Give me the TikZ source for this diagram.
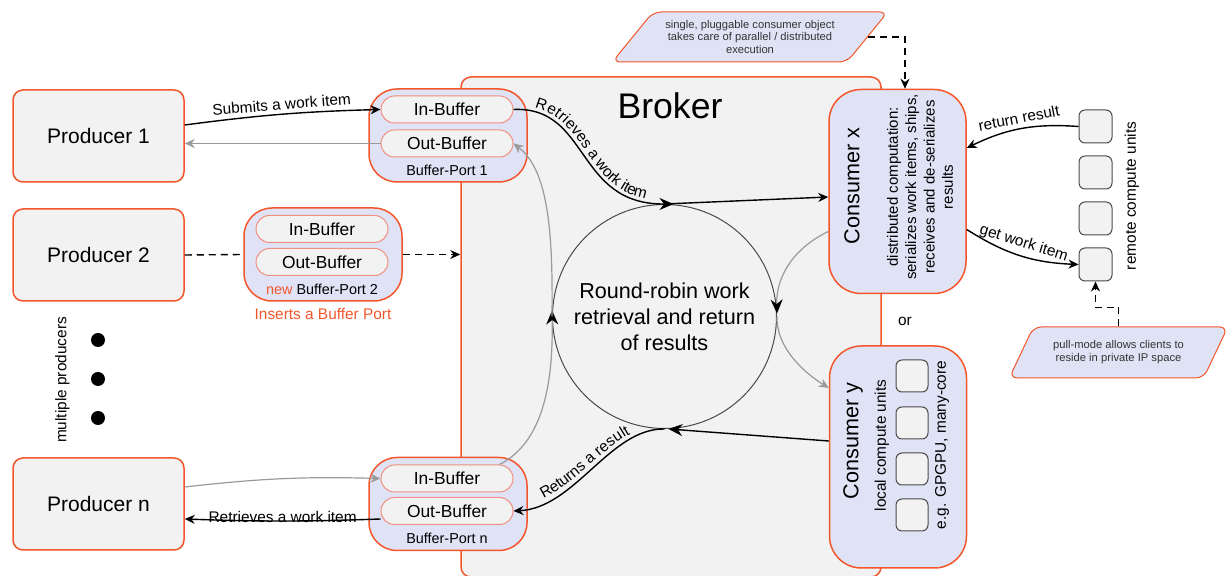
\documentclass[tikz,border=0pt]{standalone}
\usepackage{fontspec}
\setmainfont{Liberation Sans}
\usepackage{tikz}
\usetikzlibrary{arrows.meta,positioning,calc,shapes.geometric,shapes.misc,decorations.text}
\definecolor{cOr}{HTML}{F4562C}
\definecolor{cSal}{HTML}{F09080}
\definecolor{cLav}{HTML}{E0E3F5}
\definecolor{cGr}{HTML}{F2F2F2}
\definecolor{cArr}{HTML}{9A9A9A}
\definecolor{cRim}{HTML}{4A4A4A}
\newcommand\lblfont{\fontsize{7.7}{9}\selectfont}
\tikzset{
  prod/.style={rounded corners=5pt,draw=cOr,line width=0.75pt,fill=cGr,minimum width=85.5pt,minimum height=46pt,font=\fontsize{10.5}{12}\selectfont},
  broker/.style={rounded corners=5pt,draw=cOr,line width=0.75pt,fill=cGr,minimum width=210pt,minimum height=250pt},
  port/.style={rounded corners=14pt,draw=cOr,line width=0.75pt,fill=cLav,minimum width=79pt,minimum height=46.5pt},
  buf/.style={rounded rectangle,draw=cSal,line width=0.5pt,fill=cGr,minimum width=66pt,minimum height=13.5pt,inner sep=0pt,font=\fontsize{8.7}{10}\selectfont},
  cons/.style={rounded corners=16pt,draw=cOr,line width=0.75pt,fill=cLav,minimum width=68.5pt},
  unit/.style={rounded corners=3pt,draw=cRim,line width=0.5pt,fill=cGr,minimum size=16.5pt,inner sep=0pt},
  note/.style={trapezium,trapezium stretches=true,rounded corners=4pt,draw=cOr,line width=0.5pt,fill=cLav,align=center,inner sep=1pt,font=\fontsize{5.6}{6.4}\selectfont,text=black!80},
  lbl/.style={font=\lblfont},
  flow/.style={-{Stealth[length=5pt,width=4.5pt]},line width=0.7pt,black},
  rflow/.style={flow,{Stealth[length=5pt,width=4.5pt]}-},
  gflow/.style={-{Stealth[length=5pt,width=4.5pt]},line width=0.6pt,cArr},
  midtip/.style={-{Stealth[length=7pt,width=6pt,black]}},
  dflow/.style={-{Stealth[length=5pt,width=4.5pt]},line width=0.7pt,dash pattern=on 3.5pt off 2.5pt},
  onpath/.style={decorate,decoration={text along path,text align=center,raise=2pt,text={|\lblfont|#1}}},
}
\begin{document}
\begin{tikzpicture}[x=0.5pt,y=-0.5pt]
  \useasboundingbox (0,0) rectangle (1232,576);
  % broker and round-robin
  \node[broker] (broker) at (671,327) {};
  \node[font=\fontsize{17.8}{20}\selectfont] (btitle) at (670,106) {Broker};
  \node[circle,draw=cRim,line width=0.5pt,minimum size=112pt,align=center,
    font=\fontsize{10.8}{13}\selectfont] (rr) at (664.5,316.5) {Round-robin work\\retrieval and return\\of results};

  % producers
  \node[prod] (prod1) at (98.5,136) {Producer 1};
  \node[prod] (prod2) at (98.5,255) {Producer 2};
  \node[prod] (prodn) at (98.5,504) {Producer n};
  \foreach \y in {340,379,418}
    \node[circle,fill=black,minimum size=7pt,inner sep=0pt] (dot\y) at (98,\y) {};
  \node[lbl,rotate=90] (multi) at (62.5,380) {multiple producers};

  % buffer ports
  \node[port] (p1) at (448,135.5) {};
  \node[buf] (in1) at (447,109.5) {In-Buffer};
  \node[buf] (out1) at (447,143.5) {Out-Buffer};
  \node[font=\fontsize{7.2}{9}\selectfont] (p1lab) at (447,170) {Buffer-Port 1};

  \node[port] (p2) at (323,254.5) {};
  \node[buf] (in2) at (322,229) {In-Buffer};
  \node[buf] (out2) at (322,262) {Out-Buffer};
  \node[font=\fontsize{7.2}{9}\selectfont] (p2lab) at (322,289) {\textcolor{cOr}{new} Buffer-Port 2};
  \node[lbl,text=cOr,below=0pt of p2] (ins) {Inserts a Buffer Port};

  \node[port] (pn) at (448,504) {};
  \node[buf] (inn) at (447,478.5) {In-Buffer};
  \node[buf] (outn) at (447,511) {Out-Buffer};
  \node[font=\fontsize{7.2}{9}\selectfont] (pnlab) at (447,538) {Buffer-Port n};

  % consumers
  \node[cons,minimum height=102pt] (cx) at (897.5,191.5) {};
  \node[rotate=90,font=\fontsize{10.8}{13}\selectfont] (cxt) at (852,186) {Consumer x};
  \node[rotate=90,align=center,font=\fontsize{7.5}{9.2}\selectfont] (cxs) at (920,187)
    {distributed computation:\\serializes work items, ships,\\receives and de-serializes\\results};

  \node[cons,minimum height=111pt] (cy) at (898,457) {};
  \node[rotate=90,font=\fontsize{10.8}{13}\selectfont] (cyt) at (853,441) {Consumer y};
  \node[lbl,rotate=90] (cys) at (882,445.5) {local compute units};
  \foreach \i/\y in {1/376,2/423,3/469,4/515}
    \node[unit,minimum size=16pt] (l\i) at (912,\y) {};
  \node[lbl,rotate=90] (gpu) at (942,445) {e.g. GPGPU, many-core};
  \node[lbl] (or) at (905,321) {or};

  % remote units
  \foreach \i/\y in {1/126.5,2/172.5,3/218.5,4/264.5}
    \node[unit] (r\i) at (1095.5,\y) {};
  \node[lbl,rotate=90] (rlab) at (1132,196) {remote compute units};

  % notes
  \node[note,trapezium left angle=46,trapezium right angle=134,minimum width=138pt,minimum height=25pt]
    (note1) at (750,37) {single, pluggable consumer object\\takes care of parallel / distributed\\execution};
  \node[note,trapezium left angle=55,trapezium right angle=125,minimum width=110pt,minimum height=25.5pt]
    (note2) at (1118.5,352.5) {pull-mode allows clients to\\reside in private IP space};
  \draw[dflow] (note1.east) -| ([xshift=3.75pt]cx.north);
  \draw[dflow] (note2.north) -- ++(0,-19) -| (r4.south);

  % producers <-> ports
  \draw[flow] ([yshift=5.5pt]prod1.east) to[bend left=3]
    node[lbl,midway,sloped,above=-1.5pt] {Submits a work item} (in1.west);
  \draw[gflow] (out1.west) -- (out1.west -| prod1.east);
  \draw[line width=0.7pt,dash pattern=on 3.5pt off 2.5pt] (prod2.east) -- (p2.west);
  \draw[dflow] (p2.east) -- (p2.east -| broker.west);
  \draw[gflow] ([yshift=8.5pt]prodn.east) to[bend left=4] (inn.west);
  \draw[flow] ([yshift=-4pt]outn.west) to[bend left=2]
    node[lbl,midway,yshift=2pt] {Retrieves a work item} ([yshift=-7.5pt]prodn.east);

  % work item to consumer x
  \draw[line width=0.7pt,midtip] (in1.east) .. controls (590,106) and (575,205) .. (rr.north) -- ([xshift=4.5pt]rr.north);
  \path[onpath={Retrieves a work item}] (in1.east) .. controls (590,106) and (575,205) .. (rr.north);
  \draw[flow] (rr.north) -- ([yshift=-2.75pt]cx.west);

  % result from consumer y
  \draw[line width=0.7pt,midtip] ([yshift=8pt]cy.west) -- ([xshift=2pt]rr.south);
  \draw[flow] (rr.south) .. controls (610,428) and (575,508) .. (outn.east);
  \path[onpath={Returns a result}] (outn.east) .. controls (575,508) and (610,428) .. (rr.south);

  % grey round-robin paths
  \draw[cArr,line width=0.6pt,midtip] (inn.north east) .. controls (548,440) and (553,370) .. ([yshift=3pt]rr.west);
  \draw[gflow] (rr.west) .. controls (553,230) and (548,170) .. (out1.east);
  \draw[cArr,line width=0.6pt,midtip] ([yshift=-20pt]cx.west) .. controls (790,250) and (776,280) .. ([yshift=1.5pt]rr.east);
  \draw[gflow] (rr.east) .. controls (776,345) and (800,370) .. ([yshift=34.5pt]cy.west);

  % remote units
  \draw[rflow] ([yshift=21.75pt]cx.east) to[bend left=15]
    node[lbl,midway,sloped,above=-1pt] {return result} (r1.west);
  \draw[flow] ([yshift=-19pt]cx.east) to[bend right=15]
    node[lbl,midway,sloped,above=-1pt] {get work item} (r4.west);
\end{tikzpicture}
\end{document}
